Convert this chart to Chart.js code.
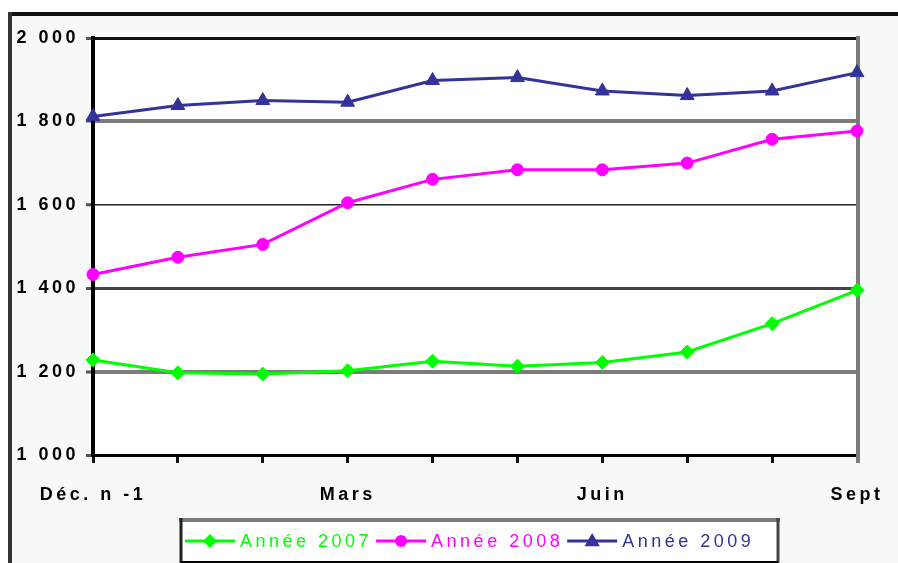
<!DOCTYPE html>
<html lang="fr">
<head>
<meta charset="utf-8">
<title>Évolution mensuelle 2007-2009</title>
<script src="https://cdn.jsdelivr.net/npm/chart.js@4.4.1/dist/chart.umd.min.js"></script>
<style>
  html, body { margin: 0; padding: 0; background: #fff; }
  canvas { display: block; }
</style>
</head>
<body>
<canvas id="graphique" width="898" height="563"></canvas>
<script>
// Mois de décembre n-1 à septembre
const mois = ['Déc. n -1', 'Janv.', 'Févr.', 'Mars', 'Avr.', 'Mai', 'Juin', 'Juil.', 'Août', 'Sept'];
const etiquettesMois = ['Déc. n -1', '', '', 'Mars', '', '', 'Juin', '', '', 'Sept'];

const annee2007 = [1228, 1197, 1194, 1202, 1225, 1213, 1222, 1247, 1315, 1395];
const annee2008 = [1433, 1474, 1505, 1605, 1661, 1684, 1684, 1700, 1757, 1777];
const annee2009 = [1812, 1838, 1850, 1846, 1898, 1905, 1873, 1862, 1873, 1917];

const graduationsY = [1000, 1200, 1400, 1600, 1800, 2000];

const police = "'Liberation Sans', Arial, sans-serif";
const espacement = '3.5px';

// couleur et épaisseur de chaque ligne horizontale
const styleGrille = {
  2000: ['#111', 3],
  1800: ['#7b7b7b', 4],
  1600: ['#222', 1.5],
  1400: ['#444', 3],
  1200: ['#7b7b7b', 4],
  1000: ['#000', 3]
};

const fondEtCadre = {
  id: 'fondEtCadre',
  beforeUpdate(chart) { chart.ctx.letterSpacing = espacement; },
  beforeDraw(chart) {
    const ctx = chart.ctx;
    const a = chart.chartArea;
    ctx.letterSpacing = espacement;
    ctx.save();
    ctx.fillStyle = '#fff';
    ctx.fillRect(0, 0, chart.width, chart.height);
    ctx.fillStyle = '#f7f9f7';
    ctx.fillRect(10, 14, chart.width - 10, chart.height - 14);
    ctx.lineWidth = 4;
    ctx.strokeStyle = '#111';
    ctx.beginPath();
    ctx.moveTo(8, 14); ctx.lineTo(chart.width, 14);
    ctx.stroke();
    ctx.strokeStyle = '#333';
    ctx.beginPath();
    ctx.moveTo(10, 12); ctx.lineTo(10, chart.height);
    ctx.stroke();
    ctx.fillStyle = '#fff';
    ctx.fillRect(a.left, a.top, a.right - a.left, a.bottom - a.top);
    ctx.restore();
  },
  beforeDatasetsDraw(chart) {
    const ctx = chart.ctx;
    const a = chart.chartArea;
    ctx.save();
    ctx.strokeStyle = '#7b7b7b';
    ctx.lineWidth = 4;
    ctx.beginPath();
    ctx.moveTo(a.right + 1, a.top - 2);
    ctx.lineTo(a.right + 1, a.bottom + 8);
    ctx.stroke();
    ctx.restore();
  }
};

function marqueur(ctx, style, r, x, y) {
  ctx.beginPath();
  if (style === 'circle') {
    ctx.arc(x, y, r, 0, Math.PI * 2);
  } else if (style === 'triangle') {
    ctx.moveTo(x, y - r);
    ctx.lineTo(x + r * 0.95, y + r * 0.65);
    ctx.lineTo(x - r * 0.95, y + r * 0.65);
    ctx.closePath();
  } else {
    ctx.moveTo(x, y - r);
    ctx.lineTo(x + r, y);
    ctx.lineTo(x, y + r);
    ctx.lineTo(x - r, y);
    ctx.closePath();
  }
  ctx.fill();
}

const legendeCadre = {
  id: 'legendeCadre',
  afterDraw(chart) {
    const ctx = chart.ctx;
    const y = 541;
    ctx.save();
    ctx.fillStyle = '#fff';
    ctx.fillRect(181, 519, 597, 43);
    ctx.lineWidth = 4;
    ctx.strokeStyle = '#7b7b7b';
    ctx.beginPath(); ctx.moveTo(179, 520); ctx.lineTo(780, 520); ctx.stroke();
    ctx.lineWidth = 3;
    ctx.strokeStyle = '#222';
    ctx.beginPath(); ctx.moveTo(181, 518); ctx.lineTo(181, 563); ctx.stroke();
    ctx.strokeStyle = '#444';
    ctx.beginPath(); ctx.moveTo(778, 518); ctx.lineTo(778, 563); ctx.stroke();
    ctx.lineWidth = 2;
    ctx.strokeStyle = '#000';
    ctx.beginPath(); ctx.moveTo(181, 562); ctx.lineTo(778, 562); ctx.stroke();

    ctx.font = '18px ' + police;
    ctx.letterSpacing = espacement;
    ctx.textBaseline = 'middle';
    let x = 185;
    chart.data.datasets.forEach(ds => {
      ctx.strokeStyle = ds.borderColor;
      ctx.fillStyle = ds.borderColor;
      ctx.lineWidth = 3;
      ctx.beginPath(); ctx.moveTo(x, y); ctx.lineTo(x + 50, y); ctx.stroke();
      marqueur(ctx, ds.pointStyle, ds.pointRadius, x + 25, y);
      ctx.fillStyle = ds.borderColor;
      ctx.fillText(ds.label, x + 55, y + 1);
      x += 55 + ctx.measureText(ds.label).width + 4;
    });
    ctx.restore();
  }
};

function serie(libelle, valeurs, couleur, forme, rayon) {
  return {
    label: libelle,
    data: valeurs,
    borderColor: couleur,
    backgroundColor: couleur,
    borderWidth: 3,
    pointStyle: forme,
    pointRadius: rayon,
    pointBorderWidth: 1,
    pointBackgroundColor: couleur,
    pointBorderColor: couleur,
    tension: 0,
    clip: false
  };
}

new Chart(document.getElementById('graphique'), {
  type: 'line',
  data: {
    labels: mois,
    datasets: [
      serie('Année 2007', annee2007, '#00ff00', 'rectRot', 7),
      serie('Année 2008', annee2008, '#ff00ff', 'circle', 6),
      serie('Année 2009', annee2009, '#333399', 'triangle', 8)
    ]
  },
  options: {
    responsive: false,
    devicePixelRatio: 1,
    animation: false,
    layout: { padding: { left: 0, top: 38, right: 41, bottom: 0 } },
    plugins: {
      legend: { display: false },
      tooltip: { enabled: false }
    },
    scales: {
      x: {
        offset: false,
        afterFit: s => { s.height = 108; s.paddingRight = 0; s.paddingLeft = 0; },
        grid: {
          drawOnChartArea: false,
          drawTicks: true,
          tickLength: 8,
          tickColor: '#111',
          tickWidth: 3
        },
        border: { color: '#000', width: 3 },
        ticks: {
          autoSkip: false,
          maxRotation: 0,
          padding: 21,
          color: '#000',
          font: { family: police, size: 18, weight: 'bold' },
          callback: (v, i) => etiquettesMois[i]
        }
      },
      y: {
        min: 1000,
        max: 2000,
        afterFit: s => { s.width = 93; },
        afterBuildTicks: s => { s.ticks = graduationsY.map(v => ({ value: v })); },
        grid: {
          color: c => (styleGrille[c.tick.value] || ['#444'])[0],
          lineWidth: c => (styleGrille[c.tick.value] || [0, 1])[1],
          tickColor: '#555',
          tickLength: 7,
          tickWidth: 3
        },
        border: { color: '#000', width: 4 },
        ticks: {
          padding: 7,
          color: '#000',
          font: { family: police, size: 18, weight: 'bold' },
          callback: v => String(v).replace(/\B(?=(\d{3})+$)/, ' ')
        }
      }
    }
  },
  plugins: [fondEtCadre, legendeCadre]
});
</script>
</body>
</html>
